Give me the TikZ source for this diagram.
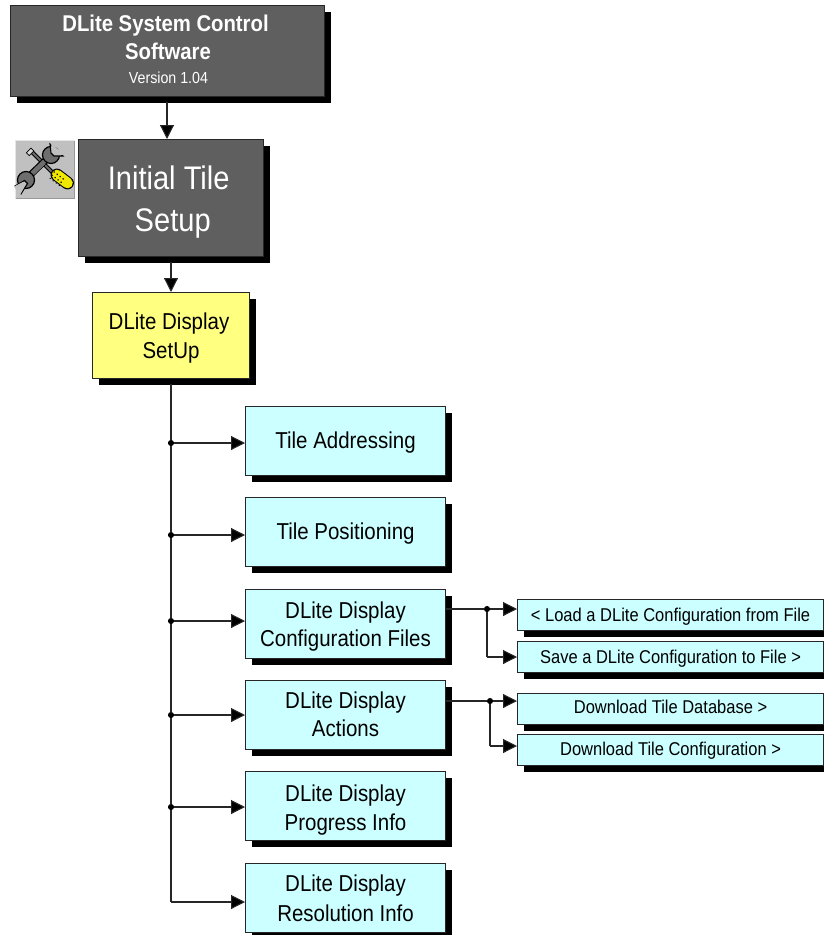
\documentclass[tikz,border=0pt]{standalone}
\usepackage{fontspec}
\setmainfont[FakeStretch=0.89]{Liberation Sans}
\usetikzlibrary{arrows.meta,shadows,calc}
\newcommand\tline[3]{\hspace*{#1pt}\raisebox{#2pt}[\height][\depth]{#3}\hspace*{-#1pt}}
\tikzset{
  x=0.75pt,y=-0.75pt,
  boxbase/.style={draw=black!85,line width=0.8pt,rectangle,inner sep=0pt,align=center,anchor=north west,
    general shadow={fill=black,shadow xshift=5pt,shadow yshift=-5pt}},
  darkbox/.style={boxbase,fill=dkgrey,text=white},
  yellowbox/.style={boxbase,fill=boxyellow,font=\fontsize{17.25}{21.5}\selectfont},
  cyanbox/.style={boxbase,fill=boxcyan,minimum width=150pt,minimum height=51.75pt,font=\fontsize{17.25}{21.5}\selectfont},
  smallbox/.style={boxbase,fill=boxcyan,minimum width=229.5pt,minimum height=23.25pt,font=\fontsize{13.9}{15}\selectfont},
  conn/.style={line width=0.85pt,draw=black!85,-{Triangle[length=10.5pt,width=10.5pt,fill=black]}},
  plain/.style={line width=0.85pt,draw=black!85},
  jdot/.style={circle,fill=black,inner sep=0pt,minimum size=4.6pt},
}
\definecolor{dkgrey}{HTML}{5F5F5F}
\definecolor{boxyellow}{HTML}{FFFF80}
\definecolor{boxcyan}{HTML}{CCFFFF}
\definecolor{icongrey}{HTML}{C0C0C0}
\definecolor{toolgrey}{HTML}{6E6E6E}
\definecolor{toolyellow}{HTML}{F0E800}
\begin{document}
\begin{tikzpicture}
\useasboundingbox (0,0) rectangle (824,935);
% top boxes
\node[darkbox,minimum width=235.5pt,minimum height=68.25pt,font=\fontsize{17.1}{21.5}\selectfont\bfseries] (sw) at (10,5)
  {\tline{-1.5}{1.5}{DLite System Control}\\\tline{0.7}{1.5}{Software}\\[-4pt]
   \tline{0.7}{1.5}{\fontsize{12}{13}\selectfont\mdseries Version 1.04}};
\node[darkbox,minimum width=139pt,minimum height=87.75pt,font=\fontsize{24.5}{31.5}\selectfont] (init) at (77.5,139)
  {\tline{-1.5}{-3}{Initial Tile}\\\tline{1.5}{-3}{Setup}};
\node[yellowbox,minimum width=117.75pt,minimum height=64.5pt] (disp) at (92,292)
  {\tline{-1.5}{-1.5}{DLite Display}\\\tline{0}{-2}{SetUp}};
% level 2
\node[cyanbox] (addr) at (245,406) {\tline{0}{-1}{Tile Addressing}};
\node[cyanbox] (pos) at (245,497) {\tline{0}{-1.5}{Tile Positioning}};
\node[cyanbox] (conf) at (245,589) {\tline{0}{-2}{DLite Display}\\\tline{0}{-1.5}{Configuration Files}};
\node[cyanbox] (act) at (245,680) {\tline{0}{0}{DLite Display}\\\tline{0}{0.5}{Actions}};
\node[cyanbox] (prog) at (245,771) {\tline{0}{-3}{DLite Display}\\\tline{0}{-3}{Progress Info}};
\node[cyanbox] (res) at (245,862.5) {\tline{0}{0}{DLite Display}\\\tline{0}{-0.7}{Resolution Info}};
% level 3
\node[smallbox] (load) at (517,599) {\tline{0}{-2}{\strut < Load a DLite Configuration from File}};
\node[smallbox] (save) at (517,641) {\tline{0}{-1.5}{\strut Save a DLite Configuration to File >}};
\node[smallbox] (db) at (517,693) {\tline{0}{0}{\strut Download Tile Database >}};
\node[smallbox] (tc) at (517,733.5) {\tline{0}{-1.5}{\strut Download Tile Configuration >}};
% junctions
\node[jdot] (j1) at (171,443) {};
\node[jdot] (j2) at (171,535) {};
\node[jdot] (j3) at (171,621) {};
\node[jdot] (j4) at (171,715) {};
\node[jdot] (j5) at (171,807) {};
\coordinate (j6) at (171,902);
\node[jdot] (k1) at (487,609) {};
\coordinate (k2) at (487,657);
\node[jdot] (k3) at (490,701) {};
\coordinate (k4) at (490,746);
% connectors
\draw[conn] (167,102) coordinate (a0) -- (a0 |- init.north);
\draw[conn] (171,262) coordinate (a1) -- (a1 |- disp.north);
\draw[plain] (171,384) coordinate (t0) -- (j1) -- (j2) -- (j3) -- (j4) -- (j5) -- (j6);
\foreach \j/\b in {j1/addr,j2/pos,j3/conf,j4/act,j5/prog,j6/res}{
  \draw[conn] (\j) -- (\j -| \b.west);
}
\draw[plain] (k1 -| conf.east) -- (k1);
\draw[plain] (k3 -| act.east) -- (k3);
\draw[conn] (k1) -- (k1 -| load.west);
\draw[plain] (k1) -- (k2);
\draw[conn] (k2) -- (k2 -| save.west);
\draw[conn] (k3) -- (k3 -| db.west);
\draw[plain] (k3) -- (k4);
\draw[conn] (k4) -- (k4 -| tc.west);
% tool icon
\fill[icongrey] (15,140) rectangle (75,199);
\draw[white!60!icongrey,line width=0.8pt] (15.5,199) -- (15.5,140.5) -- (75,140.5);
\draw[black!40,line width=0.8pt] (15.5,198.5) -- (74.5,198.5) -- (74.5,140.5);
% screwdriver shaft
\draw[black,line width=3pt] (32,152) -- (54,174);
\draw[toolgrey,line width=1.4pt] (32,152) -- (54,174);
\draw[black,fill=white!85!black,line width=0.6pt,rotate around={45:(31,151)}] (26.5,149) rectangle (33,153);
% wrench handle
\draw[black,line width=5pt] (25,180) -- (50,156);
\draw[toolgrey,line width=3.2pt] (25,180) -- (50,156);
% left head
\draw[black,fill=toolgrey,line width=0.9pt] (26,180) circle (8.5);
\draw[black,fill=icongrey,line width=0.8pt] (15,186) -- (24.5,180.5) -- (27.5,183.5) -- (21,194) -- cycle;
\fill[icongrey] (14,186.5) -- (23,182) -- (25.5,184.5) -- (20,195) -- cycle;
% right head
\draw[black,fill=toolgrey,line width=0.9pt] (51,155) circle (8.5);
\draw[black,fill=icongrey,line width=0.8pt] (50,144) -- (51,153) -- (54,156) -- (63,156) -- cycle;
\fill[icongrey] (51,143) -- (52.5,151.5) -- (55,154.5) -- (64,155) -- cycle;
\draw[toolgrey,line width=3.2pt] (33,173) -- (44,162.5);
% screwdriver handle
\draw[black,line width=9.6pt,line cap=round] (57,175) -- (67.5,183);
\draw[toolyellow,line width=8pt,line cap=round] (57,175) -- (67.5,183);
\foreach \i in {0,1,2,3}{
  \draw[black,line width=0.9pt,dotted] ($(52.5,175)+(\i*3,\i*2.3)+(2,-3.5)$) -- ($(52.5,175)+(\i*3,\i*2.3)+(-2.5,3.8)$);
}
\end{tikzpicture}
\end{document}
